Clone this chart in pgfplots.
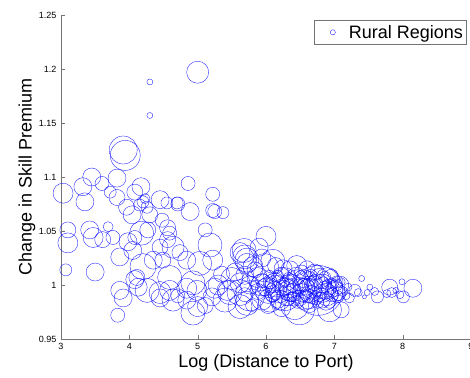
\documentclass[border=0pt]{standalone}
\usepackage{pgfplots}
\pgfplotsset{compat=1.18}
\usepackage{pgfplotstable}
\usepackage{fontspec}
\setmainfont{Liberation Sans}
\pgfplotstableread{
x y r
4.30 1.188 3
4.30 1.157 3
3.94 1.120 15
3.91 1.125 14
5.00 1.197 11
3.45 1.100 9
3.82 1.099 9
4.86 1.094 7
5.22 1.084 7
3.03 1.085 10
3.32 1.091 9
3.35 1.077 9
3.60 1.094 7
3.72 1.086 6
3.82 1.081 8
4.17 1.091 9
4.08 1.086 8
4.15 1.074 6
4.20 1.077 6
4.26 1.072 6
4.23 1.080 5
4.45 1.079 9
4.55 1.076 6
4.70 1.076 6
4.89 1.068 9
5.22 1.069 7
5.37 1.067 6
3.96 1.072 8
4.30 1.065 8
4.04 1.065 9
4.48 1.060 7
3.10 1.051 8
3.10 1.039 10
3.42 1.051 9
3.47 1.044 10
3.61 1.042 8
3.69 1.054 5
3.76 1.044 7
3.98 1.040 9
4.08 1.044 7
4.18 1.048 12
4.27 1.051 8
4.59 1.048 7
4.56 1.042 8
4.64 1.035 11
4.45 1.035 8
5.11 1.051 7
3.07 1.014 6
3.50 1.012 9
3.86 1.026 9
4.05 1.032 9
4.20 1.017 13
4.35 1.023 9
4.49 1.023 8
4.59 1.007 12
4.84 1.023 9
5.03 1.020 12
5.22 1.023 10
5.62 1.030 10
5.72 1.020 10
3.86 0.995 9
3.91 0.988 9
4.08 1.005 9
4.13 0.998 9
4.26 0.995 12
4.45 0.993 11
4.45 0.988 9
4.59 0.995 10
4.64 0.986 11
4.84 0.997 10
4.99 0.995 10
4.93 0.974 12
3.83 0.972 7
4.11 1.007 8
5.25 0.997 10
5.43 0.995 10
5.62 1.002 10
5.72 0.983 12
5.72 1.023 12
5.87 1.007 10
4.71 1.075 7
5.25 1.068 7
4.56 1.053 8
5.18 1.037 12
5.69 1.026 12
4.74 1.030 8
4.93 1.002 12
5.00 0.980 10
5.47 0.993 12
5.62 0.980 12
5.81 1.017 10
5.68 1.032 12
5.94 1.025 9
5.84 1.014 8
5.98 1.016 14
5.76 1.000 9
5.88 0.994 8
5.94 0.986 10
6.06 1.003 7
6.13 0.995 9
6.08 0.990 6
6.03 0.981 8
6.20 0.986 10
6.25 0.997 8
6.27 1.005 12
6.17 1.008 6
5.79 0.981 6
5.69 0.991 7
6.76 0.995 25
6.32 1.000 10
6.39 0.993 9
6.46 1.003 12
6.49 0.988 8
6.57 0.997 10
6.64 1.006 7
6.67 0.991 9
6.76 1.000 11
6.82 0.986 8
6.86 0.995 9
6.90 1.005 12
6.96 0.991 7
7.01 0.997 8
7.05 0.989 6
7.08 1.000 9
7.12 0.994 5
7.17 0.990 4
6.93 0.977 12
6.42 0.981 14
6.27 0.991 16
7.10 0.977 8
7.22 0.988 5
7.20 0.998 4
7.30 0.995 6
7.35 0.993 4
5.94 1.000 11
6.03 0.995 13
6.13 1.002 10
6.35 0.995 11
6.49 0.995 13
6.64 0.995 12
6.82 0.997 14
7.01 0.994 10
6.20 0.992 9
6.57 0.986 10
6.71 1.002 8
6.89 0.991 11
6.35 1.014 9
6.52 1.012 7
6.14 1.018 8
5.69 1.009 9
5.50 1.006 11
5.40 0.986 12
5.21 0.989 9
5.11 0.981 8
4.84 0.986 9
4.71 0.990 7
5.76 0.990 15
5.62 0.993 13
6.71 1.012 8
6.86 1.007 6
6.96 1.002 5
6.06 0.986 12
6.23 0.979 9
6.64 0.981 7
6.49 0.977 15
5.84 1.000 5
5.98 0.994 5
6.08 0.997 5
6.27 1.002 5
6.38 0.989 5
6.54 1.002 5
6.68 0.993 5
6.79 0.989 5
6.89 1.000 5
7.04 1.003 6
6.32 0.986 6
6.46 0.984 6
6.61 0.989 6
6.76 0.984 6
6.93 0.984 6
5.95 1.004 7
6.00 0.998 9
6.05 1.008 6
6.10 0.992 8
6.15 0.999 11
6.18 0.985 7
6.22 1.009 8
6.30 0.990 10
6.33 1.006 6
6.36 0.999 12
6.41 0.987 7
6.44 1.008 9
6.48 1.000 6
6.52 0.993 9
6.55 1.004 11
6.60 0.998 8
6.62 0.987 10
6.66 1.009 6
6.70 1.000 9
6.73 0.988 7
6.78 1.006 10
6.80 0.994 7
6.84 1.002 6
6.88 0.985 9
6.92 0.998 8
6.95 1.008 7
6.98 0.993 5
7.03 1.000 6
7.06 0.992 7
7.10 1.003 4
6.25 1.015 9
6.45 1.018 10
6.60 1.015 8
6.10 1.022 12
5.90 1.035 9
6.75 1.012 7
6.00 1.045 10
5.55 1.012 9
5.35 1.010 8
5.30 1.000 10
7.40 1.006 3
7.52 0.998 3
7.59 0.994 4
7.63 0.989 6
7.81 0.998 8
7.99 1.003 3
8.15 0.997 9
8.01 0.989 6
7.84 0.993 5
7.77 0.992 4
7.44 0.989 2
7.96 0.991 4
7.90 0.995 3
7.48 0.993 3
}\datatable
\begin{document}
\begin{tikzpicture}
\begin{axis}[
  at={(61pt,38pt)}, anchor=south west,
  scale only axis, width=410pt, height=324pt,
  xmin=3, xmax=9, ymin=0.95, ymax=1.25,
  clip=false,
  axis x line=bottom, axis y line=left,
  axis line style={-, black!55},
  tick style={black!55},
  tick align=inside, major tick length=4pt,
  xtick={3,4,5,6,7,8,9},
  xticklabels={3,4,5,6,7,8,9},
  ytick={0.95,1,1.05,1.1,1.15,1.2,1.25},
  yticklabels={0.95,1,1.05,1.1,1.15,1.2,1.25},
  tick label style={font=\fontsize{9}{10}\selectfont, black},
  xticklabel style={yshift=-1pt},
  yticklabel style={xshift=-1pt},
  xlabel={Log (Distance to Port)},
  ylabel={Change in Skill Premium},
  label style={font=\fontsize{18}{20}\selectfont},
  xlabel style={at={(axis description cs:0.5,-0.074)}, anchor=center},
  ylabel style={at={(axis description cs:-0.083,0.5)}, anchor=center, rotate=0},
  legend style={at={(axis description cs:0.988,0.985)}, anchor=north east,
    draw=black!55, font=\fontsize{18}{20}\selectfont, inner xsep=1pt, inner ysep=3pt,
    legend cell align=left},
]
\addlegendimage{legend image code/.code={
  \path[draw=none, fill=none] (0pt,0pt) -- (32pt,0pt);
  \draw[blue, line width=0.3pt] (18pt,0pt) circle (2.6pt);}}
\addlegendentry{Rural Regions}
\addplot[scatter, only marks, mark=o, forget plot,
  scatter/use mapped color={draw=blue, fill=none},
  line width=0.3pt,
  visualization depends on={\thisrow{r} \as \rad},
  scatter/@pre marker code/.append style={/tikz/mark size=\rad pt}]
  table[x=x, y=y] {\datatable};
\end{axis}
\pgfresetboundingbox
\useasboundingbox (0,0) rectangle (470pt,377pt);
\end{tikzpicture}
\end{document}
